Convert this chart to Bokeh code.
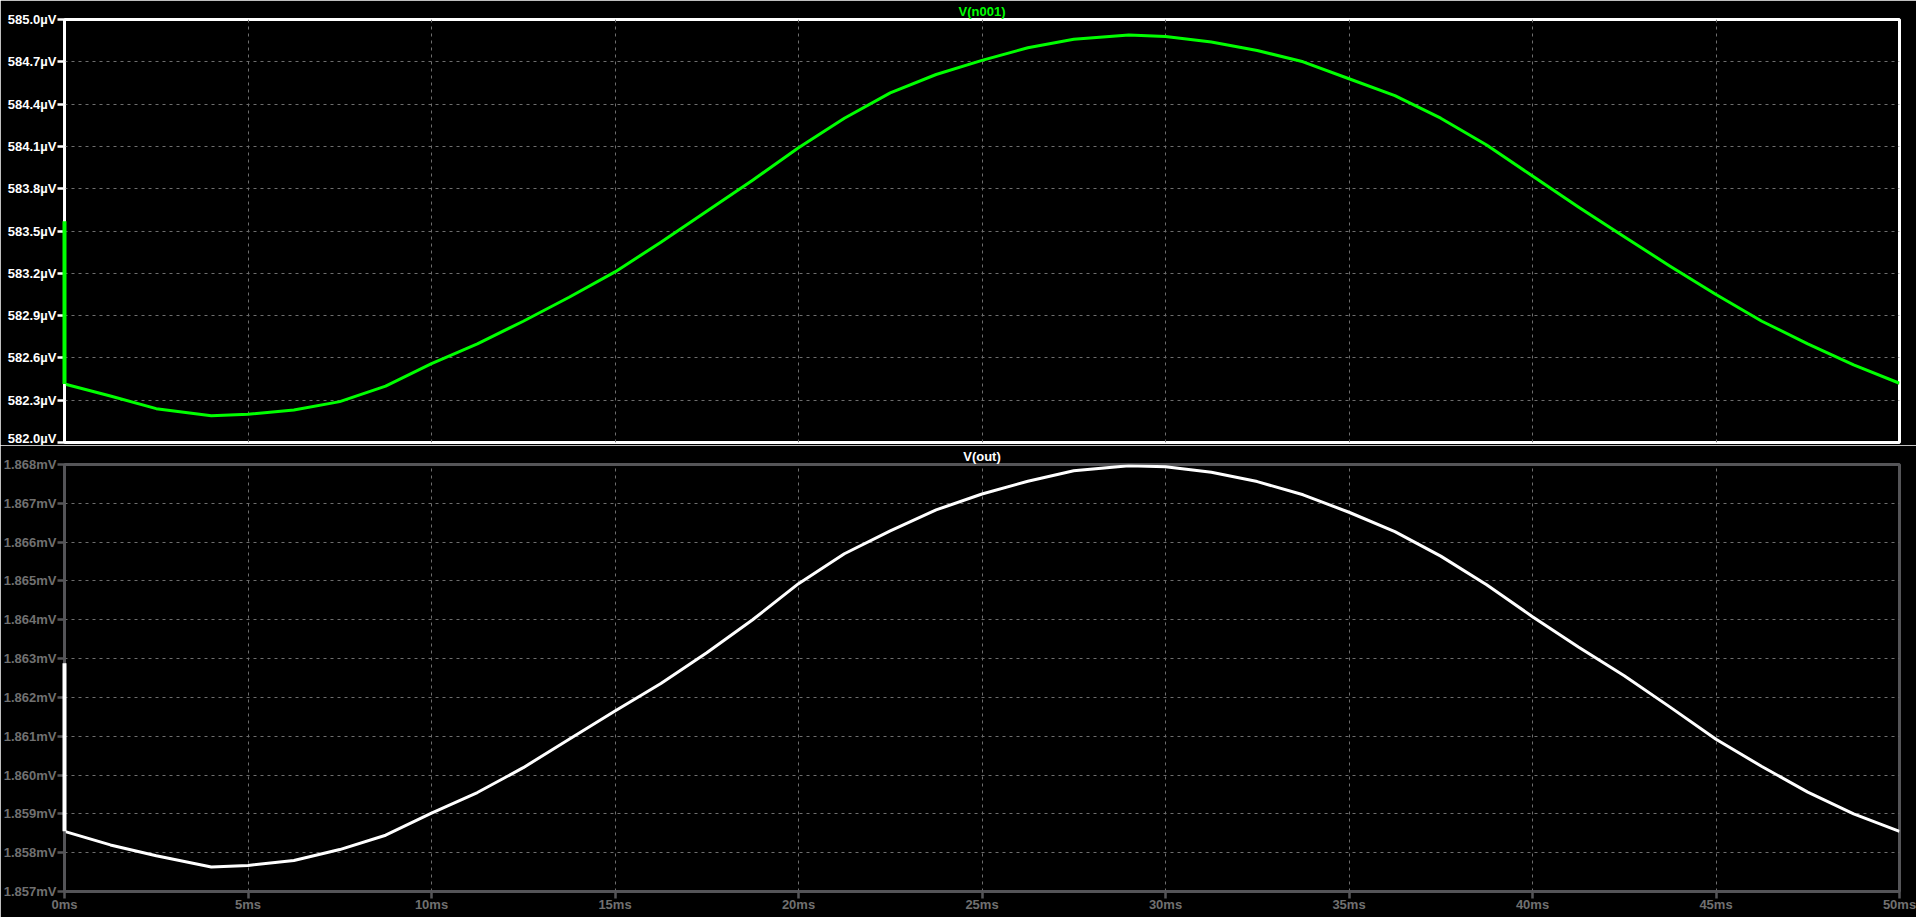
from bokeh.plotting import figure
from bokeh.models import Range1d, FixedTicker, PrintfTickFormatter
from bokeh.layouts import column
from bokeh.embed import file_html
from bokeh.resources import INLINE

# ---- data ----
t_ms = [0, 0, 1.25, 2.5, 4, 5, 6.25, 7.5, 8.75, 10, 11.25, 12.5, 13.75, 15,
        16.25, 17.5, 18.75, 20, 21.25, 22.5, 23.75, 25, 26.25, 27.5, 29, 30,
        31.25, 32.5, 33.75, 35, 36.25, 37.5, 38.75, 40, 41.25, 42.5, 43.75,
        45, 46.25, 47.5, 48.75, 50]
v_n001_uV = [583.57, 582.415, 582.33, 582.24, 582.19, 582.20, 582.23, 582.29,
             582.40, 582.56, 582.70, 582.86, 583.03, 583.21, 583.42, 583.64,
             583.86, 584.09, 584.30, 584.48, 584.61, 584.71, 584.80, 584.86,
             584.89, 584.88, 584.84, 584.78, 584.70, 584.58, 584.46, 584.30,
             584.11, 583.89, 583.67, 583.46, 583.25, 583.05, 582.86, 582.70,
             582.55, 582.42]
v_out_mV = [1.86288, 1.85855, 1.85820, 1.85792, 1.85763, 1.85767, 1.85780,
            1.85808, 1.85845, 1.85902, 1.85955, 1.86019, 1.86092, 1.86165,
            1.86236, 1.86315, 1.86400, 1.86493, 1.86570, 1.86629, 1.86683,
            1.86724, 1.86757, 1.86784, 1.86797, 1.86794, 1.86780, 1.86756,
            1.86722, 1.86677, 1.86627, 1.86564, 1.86490, 1.86408, 1.86330,
            1.86256, 1.86175, 1.86092, 1.86022, 1.85956, 1.85900, 1.85855]
x_ticks_ms = [0, 5, 10, 15, 20, 25, 30, 35, 40, 45, 50]
top_ticks_uV = [582.0, 582.3, 582.6, 582.9, 583.2, 583.5, 583.8, 584.1, 584.4, 584.7, 585.0]
bottom_ticks_mV = [1.857, 1.858, 1.859, 1.860, 1.861, 1.862, 1.863, 1.864, 1.865,
                   1.866, 1.867, 1.868]
top_title = "V(n001)"
bottom_title = "V(out)"

FONT = "Liberation Sans"
FS = "13px"
GRID = "#6e6e6e"


def make_fig(height, top_border, bottom_border, ymin, ymax, title, title_color):
    p = figure(width=1916, height=height, output_backend="svg", toolbar_location=None,
               x_range=Range1d(0, 50), y_range=Range1d(ymin, ymax),
               min_border_left=64, min_border_right=17,
               min_border_top=top_border, min_border_bottom=bottom_border,
               title=title)
    p.title.align = "center"
    p.title.text_color = title_color
    p.title.text_font = FONT
    p.title.text_font_style = "bold"
    p.title.text_font_size = "13px"
    p.title.standoff = 2
    p.title.offset = 0
    p.background_fill_color = "black"
    p.border_fill_color = "black"
    p.outline_line_width = 3
    for g in (p.xgrid, p.ygrid):
        g.grid_line_color = GRID
        g.grid_line_dash = "3 4"
        g.grid_line_width = 1
    for ax in (p.xaxis, p.yaxis):
        ax.major_tick_out = 7
        ax.major_tick_in = 0
        ax.minor_tick_line_color = None
        ax.major_tick_line_width = 2.5
        ax.axis_line_width = 2.5
        ax.major_label_text_font = FONT
        ax.major_label_text_font_style = "bold"
        ax.major_label_text_font_size = FS
    p.yaxis.major_label_standoff = 1
    p.xaxis.major_label_standoff = -2
    p.xaxis.ticker = FixedTicker(ticks=x_ticks_ms)
    p.xaxis.formatter = PrintfTickFormatter(format="%.0fms")
    return p


# ---- top panel ----
top = make_fig(445, 18, 3, top_ticks_uV[0], top_ticks_uV[-1], top_title, "#00ff00")
top.outline_line_color = "white"
top.yaxis.axis_line_color = "white"
top.yaxis.major_tick_line_color = "white"
top.yaxis.major_label_text_color = "white"
top.yaxis.ticker = FixedTicker(ticks=top_ticks_uV)
top.yaxis.formatter = PrintfTickFormatter(format="%.1fµV")
top.xaxis.visible = False
top.line(x=t_ms, y=v_n001_uV, line_color="#00ff00", line_width=3, line_join="round")
top.line(x=t_ms[:2], y=v_n001_uV[:2], line_color="#00ff00", line_width=4, level="overlay")

# ---- bottom panel ----
LINEC = "#555558"
LABELC = "#707070"
bot = make_fig(472, 18, 26, bottom_ticks_mV[0], bottom_ticks_mV[-1], bottom_title, "white")
bot.outline_line_color = LINEC
for ax in (bot.xaxis, bot.yaxis):
    ax.axis_line_color = LINEC
    ax.major_tick_line_color = LINEC
    ax.major_label_text_color = LABELC
bot.yaxis.ticker = FixedTicker(ticks=bottom_ticks_mV)
bot.yaxis.formatter = PrintfTickFormatter(format="%.3fmV")
bot.line(x=t_ms, y=v_out_mV, line_color="white", line_width=3, line_join="round")
bot.line(x=t_ms[:2], y=v_out_mV[:2], line_color="white", line_width=4, level="overlay")

layout = column(top, bot, spacing=0)

with open("out.html", "w") as f:
    f.write(file_html(layout, INLINE))
